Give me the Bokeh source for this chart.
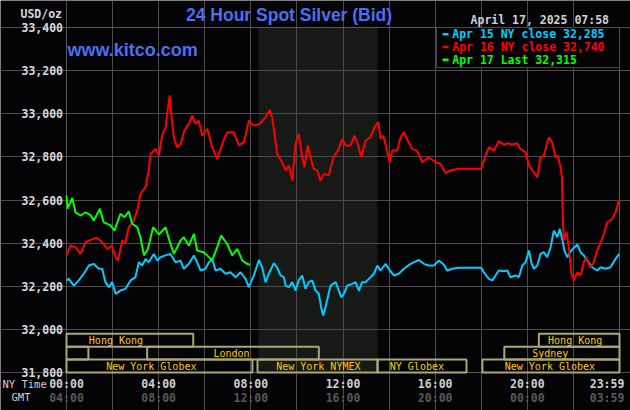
from bokeh.plotting import figure
from bokeh.models import Range1d, FixedTicker, Grid
from bokeh.core.properties import value
from bokeh.embed import file_html
from bokeh.resources import INLINE

# ---------------- data (time in NY hours, price USD/oz) ----------------
red_t = [0.00,0.17,0.39,0.61,0.82,1.04,1.33,1.55,1.77,1.98,
         2.13,2.23,2.42,2.56,2.70,2.89,3.07,3.21,3.43,3.57,
         3.65,3.86,4.01,4.15,4.30,4.37,4.48,4.56,4.66,4.80,
         4.95,5.12,5.31,5.46,5.60,5.74,5.89,6.11,6.32,6.54,
         6.76,6.97,7.26,7.48,7.70,7.91,8.13,8.39,8.64,8.82,
         8.92,9.03,9.14,9.36,9.51,9.65,9.80,9.94,10.08,10.23,
         10.33,10.47,10.59,10.73,10.88,11.02,11.17,11.38,11.58,11.78,
         11.97,12.11,12.33,12.50,12.64,12.79,12.98,13.19,13.37,13.53,
         13.63,13.75,13.89,14.03,14.14,14.35,14.50,14.64,14.81,15.00,
         15.22,15.44,15.72,16.02,16.23,16.45,16.64,17.00,18.00,18.11,
         18.33,18.55,18.76,18.98,19.13,19.34,19.56,19.70,19.92,20.07,
         20.28,20.43,20.57,20.72,20.83,20.93,21.08,21.22,21.32,21.44,
         21.50,21.53,21.58,21.70,21.80,21.91,22.02,22.17,22.31,22.45,
         22.57,22.71,22.86,23.03,23.25,23.47,23.68,23.83,23.97]
red_v = [32343,32389,32381,32350,32404,32415,32425,32404,32373,32389,
         32335,32319,32412,32404,32474,32497,32551,32629,32660,32737,
         32814,32837,32806,32899,32938,33000,33085,32984,32891,32845,
         32860,32922,32953,32992,32953,32969,32899,32930,32845,32791,
         32860,32914,32914,32853,32868,32969,32945,32953,32984,33018,
         32984,32907,32814,32775,32737,32760,32690,32860,32907,32798,
         32752,32853,32798,32745,32737,32690,32721,32714,32798,32829,
         32883,32853,32853,32899,32860,32798,32876,32891,32938,32961,
         32883,32899,32837,32775,32829,32829,32891,32914,32876,32837,
         32829,32775,32798,32775,32768,32725,32737,32745,32745,32783,
         32845,32829,32873,32857,32863,32857,32863,32837,32822,32760,
         32729,32706,32798,32806,32853,32891,32868,32798,32806,32752,
         32706,32551,32412,32451,32381,32258,32227,32265,32250,32311,
         32335,32288,32304,32366,32420,32497,32512,32543,32598]

cyan_t = [0.00,0.10,0.32,0.53,0.75,0.97,1.18,1.40,1.55,1.69,
          1.84,1.98,2.13,2.34,2.56,2.78,2.99,3.14,3.29,3.43,
          3.57,3.79,3.94,4.08,4.30,4.51,4.73,4.95,5.09,5.31,
          5.53,5.67,5.82,6.03,6.18,6.32,6.47,6.68,6.90,7.12,
          7.34,7.55,7.77,7.91,8.13,8.35,8.49,8.64,8.78,9.00,
          9.14,9.29,9.43,9.51,9.65,9.80,9.94,10.08,10.23,10.37,
          10.52,10.66,10.81,10.95,11.05,11.14,11.24,11.34,11.46,11.68,
          11.82,11.92,12.04,12.18,12.40,12.54,12.69,12.83,12.98,13.12,
          13.34,13.49,13.63,13.85,14.03,14.21,14.42,14.64,14.93,15.29,
          15.51,15.72,15.94,16.16,16.38,16.52,16.74,17.00,18.00,18.11,
          18.33,18.48,18.62,18.76,18.98,19.13,19.27,19.49,19.63,19.78,
          19.92,20.07,20.17,20.28,20.43,20.57,20.72,20.86,21.01,21.15,
          21.30,21.41,21.51,21.61,21.73,21.91,22.17,22.31,22.45,22.66,
          22.81,23.03,23.18,23.39,23.61,23.83,23.98]
cyan_v = [32227,32234,32203,32227,32258,32296,32304,32281,32281,32219,
          32196,32219,32165,32180,32188,32227,32242,32311,32296,32327,
          32311,32350,32319,32335,32343,32350,32311,32319,32281,32304,
          32343,32311,32273,32281,32311,32327,32273,32281,32258,32265,
          32242,32265,32234,32196,32250,32322,32288,32219,32258,32307,
          32288,32250,32242,32203,32196,32219,32180,32227,32250,32188,
          32219,32227,32180,32165,32103,32064,32103,32149,32203,32219,
          32180,32149,32165,32203,32211,32219,32180,32219,32219,32234,
          32258,32296,32273,32304,32273,32250,32258,32281,32304,32322,
          32304,32296,32296,32319,32300,32273,32281,32286,32286,32265,
          32234,32227,32250,32273,32270,32273,32242,32250,32242,32296,
          32311,32366,32311,32281,32296,32350,32358,32335,32381,32458,
          32427,32466,32420,32366,32335,32366,32394,32358,32343,32311,
          32288,32273,32288,32281,32288,32327,32350]

green_t = [0.00,0.05,0.25,0.39,0.61,0.82,1.04,1.18,1.45,1.61,
           1.91,2.08,2.34,2.52,2.70,2.85,3.07,3.21,3.36,3.53,
           3.76,4.01,4.30,4.44,4.66,4.95,5.09,5.31,5.53,5.67,
           5.96,6.18,6.32,6.54,6.71,6.97,7.19,7.41,7.63,7.84,7.97]
green_v = [32620,32560,32610,32543,32528,32543,32530,32505,32559,32497,
           32482,32458,32536,32520,32548,32490,32474,32427,32343,32373,
           32474,32440,32474,32421,32350,32412,32427,32389,32443,32366,
           32358,32335,32319,32381,32435,32397,32343,32373,32319,32304,32300]

legend_texts = ["Apr 15 NY close 32,285", "Apr 16 NY close 32,740", "Apr 17 Last 32,315"]

y_ticks = [31800, 32000, 32200, 32400, 32600, 32800, 33000, 33200, 33400]
grid_x = [0, 2, 4, 6, 8, 10, 12, 14, 16, 18, 20, 22]
x_tick_pos = [0, 4, 8, 12, 16, 20, 23.46]
ny_labels = ["00:00", "04:00", "08:00", "12:00", "16:00", "20:00", "23:59"]
gmt_labels = ["04:00", "08:00", "12:00", "16:00", "20:00", "00:00", "03:59"]

# trading sessions: row, start, end (NY hours)
sess_row = [0, 0, 1, 1, 1, 2, 2, 2, 2]
sess_start = [0.0, 20.5, 0.0, 3.5, 19.0, 0.0, 8.29, 13.5, 18.05]
sess_end = [5.5, 24.0, 0.95, 10.95, 24.0, 8.07, 13.5, 17.36, 24.0]
sess_names = ["Hong Kong", "Hong Kong", "London", "Sydney",
              "New York Globex", "New York NYMEX", "NY Globex", "New York Globex"]
sess_name_row = [0, 0, 1, 1, 2, 2, 2, 2]
sess_name_x = [0.97, 20.9, 6.38, 20.21, 1.72, 9.10, 14.03, 19.02]
row_top = [31980, 31920, 31860]
row_bot = [31920, 31860, 31800]
nymex_shade = (8.33, 13.5)

title_text = "24 Hour Spot Silver (Bid)"
date_text = "April 17, 2025 07:58"
unit_text = "USD/oz"
site_text = "www.kitco.com"

# ---------------- layout: data area 0..24 h x 31800..33400, margins around it ----------------
W, H = 630, 410
PLOT_L, PLOT_R, PLOT_T, PLOT_B = 66, 619, 27, 372     # pixel box of the data area
X0, X1, Y0, Y1 = 0.0, 24.0, 31800.0, 33400.0
kx = (X1 - X0) / (PLOT_R - PLOT_L)                    # hours per pixel
ky = (Y1 - Y0) / (PLOT_B - PLOT_T)                    # USD per pixel
x_range = Range1d(X0 - PLOT_L * kx, X1 + (W - PLOT_R) * kx)
y_range = Range1d(Y0 - (H - PLOT_B) * ky, Y1 + PLOT_T * ky)

def px_x(px):   # text placement in the margins
    return X0 + (px - PLOT_L) * kx

def px_y(py):
    return Y1 - (py - PLOT_T) * ky

# ---------------- styling ----------------
BG = "#040406"
GRID = "#4c4c4c"
FRAME = "#5a5a5a"
CYAN = "#00ccff"
RED = "#ff0000"
GREEN = "#00ff00"
BLUE = "#4f6ef2"
SESS_LINE = "#a8a878"
SESS_TEXT = "#ffcc00"
MONO = "DejaVu Sans Mono"

p = figure(width=W, height=H, output_backend="svg", toolbar_location=None,
           x_range=x_range, y_range=y_range, x_axis_type=None, y_axis_type=None,
           min_border=0, background_fill_color=BG, border_fill_color=BG,
           outline_line_color=None)

# grids (bounded to the data area)
p.add_layout(Grid(dimension=0, ticker=FixedTicker(ticks=grid_x), bounds=(Y0, Y1),
                  grid_line_color=GRID, grid_line_width=1), "center")
p.add_layout(Grid(dimension=1, ticker=FixedTicker(ticks=y_ticks), bounds=(X0, X1),
                  grid_line_color=GRID, grid_line_width=1), "center")

# NYMEX shading (below the grid)
p.quad(left=[nymex_shade[0]], right=[nymex_shade[1]], bottom=[Y0], top=[Y1],
       fill_color="#161916", line_color=None, level="image")

# plot border
p.quad(left=[X0], right=[X1], bottom=[Y0], top=[Y1], fill_color=None,
       line_color=FRAME, line_width=1)

# sessions
p.quad(left=sess_start, right=sess_end,
       bottom=[row_bot[r] for r in sess_row], top=[row_top[r] for r in sess_row],
       fill_color=None, line_color=SESS_LINE, line_width=2)
p.text(x=sess_name_x, y=[(row_top[r] + row_bot[r]) / 2 for r in sess_name_row], text=sess_names,
       text_font=value(MONO), text_font_size="10px", text_color=SESS_TEXT,
       text_align="left", text_baseline="middle")

# legend box
p.quad(left=[16.06], right=[X1], bottom=[33214], top=[Y1],
       fill_color=BG, line_color=GRID, line_width=1)
leg_y = [px_y(33.8), px_y(46.4), px_y(59.2)]
p.segment(x0=[16.32] * 3, x1=[16.58] * 3, y0=leg_y, y1=leg_y,
          line_color=[CYAN, RED, GREEN], line_width=2.5)
p.text(x=[16.74] * 3, y=leg_y, text=legend_texts, text_color=[CYAN, RED, GREEN],
       text_font=value(MONO), text_font_style="bold", text_font_size="11.5px",
       text_align="left", text_baseline="middle")

# series
p.line(cyan_t, cyan_v, line_color=CYAN, line_width=2)
p.line(red_t, red_v, line_color=RED, line_width=2)
p.line(green_t, green_v, line_color=GREEN, line_width=2)

# site name
p.text(x=[0.04], y=[px_y(49.5)], text=[site_text], text_color=BLUE,
       text_font=value("Liberation Sans"), text_font_style="bold", text_font_size="18px",
       text_align="left", text_baseline="middle")

# y tick labels
p.text(x=[px_x(62.5)] * len(y_ticks), y=y_ticks, text=[f"{v:,}" for v in y_ticks],
       text_color="#d8d8d8", text_font=value(MONO), text_font_style="bold",
       text_font_size="11.5px", text_align="right", text_baseline="middle")

# x tick labels: NY time and GMT
p.text(x=x_tick_pos, y=[px_y(383)] * len(x_tick_pos), text=ny_labels,
       text_color="#d0d0d0", text_font=value(MONO), text_font_style="bold",
       text_font_size="11.5px", text_align="center", text_baseline="middle")
p.text(x=x_tick_pos, y=[px_y(397)] * len(x_tick_pos), text=gmt_labels,
       text_color="#585858", text_font=value(MONO), text_font_style="bold",
       text_font_size="11.5px", text_align="center", text_baseline="middle")
p.text(x=[px_x(2), px_x(11)], y=[px_y(383), px_y(396.5)], text=["NY Time", "GMT"],
       text_color="#d0d0d0", text_font=value(MONO), text_font_size="10.5px",
       text_align="left", text_baseline="middle")

# header texts
p.text(x=[px_x(185.5)], y=[px_y(14.8)], text=[title_text], text_color=BLUE,
       text_font=value("Liberation Sans"), text_font_style="bold", text_font_size="17.5px",
       text_align="left", text_baseline="middle")
p.text(x=[px_x(61.5)], y=[px_y(13.3)], text=[unit_text], text_color="#d8d8d8",
       text_font=value(MONO), text_font_style="bold", text_font_size="11.5px",
       text_align="right", text_baseline="middle")
p.text(x=[px_x(608.5)], y=[px_y(19.6)], text=[date_text], text_color="#d0d0d0",
       text_font=value(MONO), text_font_style="bold", text_font_size="11.5px",
       text_align="right", text_baseline="middle")

open("out.html", "w").write(file_html(p, INLINE))
